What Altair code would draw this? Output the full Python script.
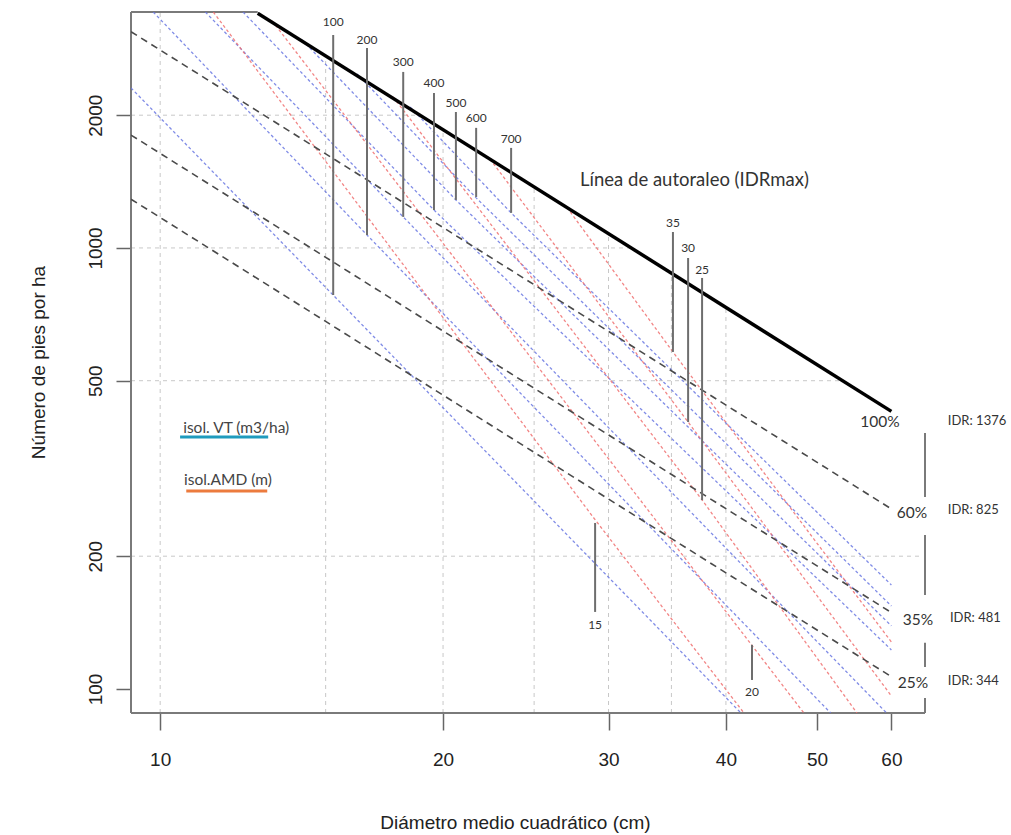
import altair as alt
import pandas as pd

# ---------------- scales ----------------
X_DOMAIN = [9.31, 65.15]     # Diámetro medio cuadrático (cm)
Y_DOMAIN = [88.2, 3428]      # Número de pies por ha
X_TICKS = [10, 20, 30, 40, 50, 60]
Y_TICKS = [100, 200, 500, 1000, 2000]

# ---------------- density lines (IDR) ----------------
idr_names = ["100%", "60%", "35%", "25%"]
idr_d = [[12.7, 60.0], [9.31, 60.0], [9.31, 60.0], [9.31, 60.0]]
idr_n = [[3405, 426], [3093, 256], [1803, 149], [1290, 106.6]]

# ---------------- volume isolines (m3/ha) ----------------
vol_names = ["100", "200", "300", "400", "500", "600", "700"]
vol_d = [[9.31, 41.5], [9.83, 16.6, 51.7], [11.17, 18.14, 59.3],
         [12.25, 19.56, 60.0], [14.16, 20.64, 60.0], [16.2, 21.69, 60.0],
         [18.45, 23.63, 60.0]]
vol_n = [[2306, 88.2], [3428, 1070, 88.2], [3428, 1176, 88.2],
         [3428, 1219, 122.6], [2963, 1285, 139], [2481, 1299, 154.2],
         [2088, 1201, 172.1]]

# ---------------- dominant height isolines (m) ----------------
amd_names = ["15", "20", "25", "30", "35"]
amd_d = [[11.39, 28.88, 41.81], [13.16, 48.42], [17.7, 37.73, 55.15],
         [22.44, 36.46, 60.0], [27.1, 35.13, 60.0]]
amd_n = [[3428, 245.5, 88.2], [3271, 88.2], [2200, 268.3, 88.2],
         [1590, 403, 96.4], [1235, 581, 127.8]]

# ---------------- label leader segments ----------------
vol_seg_d = [15.28, 16.6, 18.14, 19.56, 20.64, 21.69, 23.63]
vol_seg_top = [3041, 2841, 2507, 2246, 2034, 1872, 1686]
vol_seg_bot = [782, 1070, 1176, 1219, 1285, 1305, 1201]
vol_lab_n = [3254, 2963, 2642, 2366, 2132, 1971, 1767]

amd_seg_d = [29.03, 42.64, 37.73, 36.46, 35.13]
amd_seg_top = [237.9, 125.9, 855, 949, 1087]
amd_seg_bot = [149.5, 104.8, 268, 403, 581]
amd_lab_n = [139.7, 98.4, 891.5, 1000, 1139]

# ---------------- right-hand labels ----------------
pct_text = ["100%", "60%", "35%", "25%"]
pct_d = [58.34, 63.1, 64.04, 63.26]
pct_n = [403, 250.6, 143.4, 103.2]
idr_text = ["IDR: 1376", "IDR: 825", "IDR: 481", "IDR: 344"]
idr_lab_d = [68.9, 68.9, 69.25, 68.9]
idr_lab_n = [405.3, 254.6, 144.9, 104.3]

# ---------------- grid (only below the self-thinning line) ----------------
vgrid_d = [10, 15, 20, 25, 30, 35, 40]
vgrid_top = [3428, 2723, 1855, 1376, 1078, 877, 733.7]
hgrid_n = [2000, 1000, 500, 200]
hgrid_right = [18.9, 31.7, 53.3, 64.5]

# ---------------- frame pieces ----------------
frame_d = [9.31, 9.31, 9.31, 65.15, 65.15, 65.15, 65.15]
frame_d2 = [9.31, 65.15, 12.7, 65.15, 65.15, 65.15, 65.15]
frame_n = [88.2, 88.2, 3428, 380.5, 223.5, 127.2, 95.4]
frame_n2 = [3428, 88.2, 3428, 272.5, 163.4, 112.2, 88.2]


def lines_df(names, ds, ns):
    rows = []
    for name, dl, nl in zip(names, ds, ns):
        for i, (d, n) in enumerate(zip(dl, nl)):
            rows.append({"line": name, "ord": i, "D": d, "N": n})
    return pd.DataFrame(rows)


xs = alt.Scale(type="log", domain=X_DOMAIN, nice=False, zero=False)
ys = alt.Scale(type="log", domain=Y_DOMAIN, nice=False, zero=False)

xaxis = alt.Axis(values=X_TICKS, format="d", grid=False, domain=False,
                 tickSize=17, tickColor="#666", tickWidth=1.5,
                 labelFont="Liberation Sans", labelFontSize=19, labelColor="#222",
                 labelPadding=20, labelFlush=False, labelOverlap=False,
                 title="Diámetro medio cuadrático (cm)", titleFont="Liberation Sans",
                 titleFontSize=19, titleFontWeight="normal", titleColor="#222",
                 titleX=384, titleY=109, titleBaseline="middle", titleAlign="center")
yaxis = alt.Axis(values=Y_TICKS, format="d", grid=False, domain=False,
                 tickSize=15, tickColor="#666", tickWidth=1.5,
                 labelFont="Liberation Sans", labelFontSize=19, labelColor="#222",
                 labelAngle=270, labelAlign="center", labelBaseline="alphabetic",
                 labelPadding=15, labelFlush=False, labelOverlap=False,
                 title="Número de pies por ha", titleFont="Liberation Sans",
                 titleFontSize=19, titleFontWeight="normal", titleColor="#222",
                 titleX=-93, titleY=350, titleAngle=270, titleBaseline="middle",
                 titleAlign="center")


def X(f="D"):
    return alt.X(f + ":Q", scale=xs, axis=xaxis)


def Y(f="N"):
    return alt.Y(f + ":Q", scale=ys, axis=yaxis)


# grid dataframe
grid_rows = []
for d, t in zip(vgrid_d, vgrid_top):
    grid_rows.append({"D": d, "D2": d, "N": Y_DOMAIN[0], "N2": t})
for n, r in zip(hgrid_n, hgrid_right):
    grid_rows.append({"D": X_DOMAIN[0], "D2": r, "N": n, "N2": n})
grid_df = pd.DataFrame(grid_rows)

frame_df = pd.DataFrame({"D": frame_d, "D2": frame_d2, "N": frame_n, "N2": frame_n2})

seg_df = pd.DataFrame({
    "D": vol_seg_d + amd_seg_d,
    "N": vol_seg_top + amd_seg_top,
    "N2": vol_seg_bot + amd_seg_bot,
})

grid = alt.Chart(grid_df).mark_rule(color="#c8c8c8", strokeDash=[4, 4], strokeWidth=1).encode(
    x=X(), x2="D2:Q", y=Y(), y2="N2:Q")
frame = alt.Chart(frame_df).mark_rule(color="#7a7a7a", strokeWidth=2).encode(
    x=X(), x2="D2:Q", y=Y(), y2="N2:Q")
segs = alt.Chart(seg_df).mark_rule(color="#6e6e6e", strokeWidth=2).encode(
    x=X(), y=Y(), y2="N2:Q")

vol_lines = alt.Chart(lines_df(vol_names, vol_d, vol_n)).mark_line(
    clip=True, color="#6a78e2", strokeDash=[3, 2.5], strokeWidth=1.3, opacity=0.85).encode(
    x=X(), y=Y(), detail="line:N", order="ord:Q")
amd_lines = alt.Chart(lines_df(amd_names, amd_d, amd_n)).mark_line(
    clip=True, color="#f07070", strokeDash=[3, 2.5], strokeWidth=1.3, opacity=0.85).encode(
    x=X(), y=Y(), detail="line:N", order="ord:Q")

idr_df = lines_df(idr_names, idr_d, idr_n)
idr_dashed = alt.Chart(idr_df[idr_df["line"] != "100%"]).mark_line(
    clip=True, color="#4a4a4a", strokeDash=[7, 5], strokeWidth=1.6).encode(
    x=X(), y=Y(), detail="line:N", order="ord:Q")
idr_max = alt.Chart(idr_df[idr_df["line"] == "100%"]).mark_line(
    clip=True, color="#000000", strokeWidth=3.5).encode(
    x=X(), y=Y(), detail="line:N", order="ord:Q")

FONT = "Lato"
vol_lab = alt.Chart(pd.DataFrame({"D": vol_seg_d, "N": vol_lab_n, "t": vol_names})).mark_text(
    font=FONT, fontSize=12, color="#333", align="center", baseline="middle").encode(
    x=X(), y=Y(), text="t:N")
amd_lab = alt.Chart(pd.DataFrame({"D": amd_seg_d, "N": amd_lab_n, "t": amd_names})).mark_text(
    font=FONT, fontSize=12, color="#333", align="center", baseline="middle").encode(
    x=X(), y=Y(), text="t:N")
pct_lab = alt.Chart(pd.DataFrame({"D": pct_d, "N": pct_n, "t": pct_text})).mark_text(
    font=FONT, fontSize=15.5, color="#333", align="center", baseline="middle").encode(
    x=X(), y=Y(), text="t:N")
idr_lab = alt.Chart(pd.DataFrame({"D": idr_lab_d, "N": idr_lab_n, "t": idr_text})).mark_text(
    font=FONT, fontSize=13, color="#333", align="left", baseline="middle").encode(
    x=X(), y=Y(), text="t:N")
title_lab = alt.Chart(pd.DataFrame({"D": [27.98], "N": [1426], "t": ["Línea de autoraleo (IDRmax)"]})).mark_text(
    font=FONT, fontSize=18.5, color="#333", align="left", baseline="middle").encode(
    x=X(), y=Y(), text="t:N")

# small hand-drawn legend
leg_text = ["isol. VT (m3/ha)", "isol.AMD (m)"]
leg_d = [10.58, 10.6]
leg_n = [390.7, 297.8]
leg_line_d = [10.5, 10.66]
leg_line_d2 = [13.03, 13.0]
leg_line_n = [372.7, 281.2]
leg_colors = ["#1f9bbd", "#ec7b3e"]

leg_txt = alt.Chart(pd.DataFrame({"D": leg_d, "N": leg_n, "t": leg_text})).mark_text(
    font=FONT, fontSize=15.5, color="#444", align="left", baseline="middle").encode(
    x=X(), y=Y(), text="t:N")
leg_lines = alt.Chart(pd.DataFrame({"D": leg_line_d, "D2": leg_line_d2, "N": leg_line_n,
                                    "c": leg_colors})).mark_rule(strokeWidth=3).encode(
    x=X(), x2="D2:Q", y=Y(), color=alt.Color("c:N", scale=None))

chart = alt.layer(
    grid, frame, vol_lines, amd_lines, idr_dashed, idr_max, segs,
    vol_lab, amd_lab, pct_lab, idr_lab, title_lab, leg_lines, leg_txt
).properties(
    width=794, height=701,
    autosize=alt.AutoSizeParams(type="none"),
    padding={"left": 131, "top": 12, "right": 86, "bottom": 122},
    background="white",
).configure_view(stroke=None)

chart.save("out.html", embed_options={"renderer": "svg", "actions": False})
